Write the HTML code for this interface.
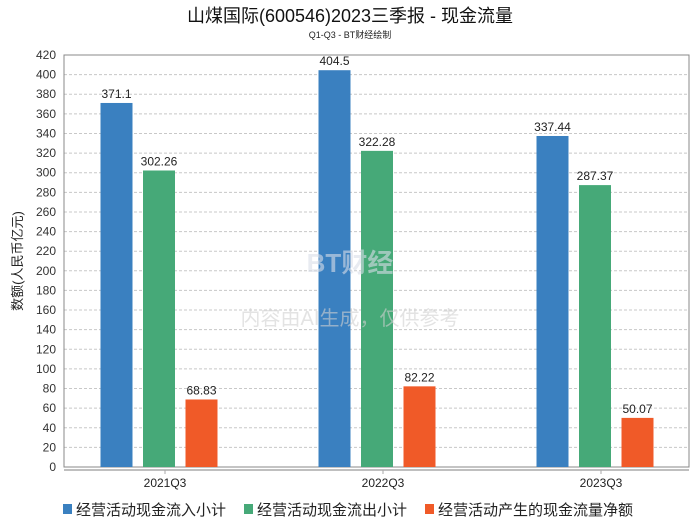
<!DOCTYPE html>
<html><head><meta charset="utf-8"><style>
body{margin:0;background:#fff;width:700px;height:524px;overflow:hidden;font-family:"Liberation Sans","Noto Sans CJK SC",sans-serif}
</style></head><body>
<svg id="c" width="700" height="524" xmlns="http://www.w3.org/2000/svg" font-family="Liberation Sans, Noto Sans CJK SC, sans-serif">
<text x="350" y="22" text-anchor="middle" font-size="18" fill="#111">山煤国际(600546)2023三季报 - 现金流量</text>
<text x="350" y="38" text-anchor="middle" font-size="9" fill="#222">Q1-Q3 - BT财经绘制</text>
<text x="22" y="261" text-anchor="middle" font-size="13" fill="#222" transform="rotate(-90 22 261)">数额(人民币亿元)</text>
<g id="grid"></g>
<g id="bars"></g>
<text x="350" y="272" text-anchor="middle" font-size="26" fill="#d8dee8" fill-opacity="0.6" font-weight="bold">BT财经</text>
<text x="350" y="325" text-anchor="middle" font-size="20" fill="#d0d0d0" fill-opacity="0.6">内容由AI生成，仅供参考</text>
<g id="legend" font-size="15" fill="#222"></g>
</svg>
<script>
const categories=["2021Q3","2022Q3","2023Q3"];
const seriesNames=["经营活动现金流入小计","经营活动现金流出小计","经营活动产生的现金流量净额"];
const inflow=[371.1,404.5,337.44];
const outflow=[302.26,322.28,287.37];
const net=[68.83,82.22,50.07];
const yTicks=[0,20,40,60,80,100,120,140,160,180,200,220,240,260,280,300,320,340,360,380,400,420];
const colors=["#3a80c0","#46a978","#f05a28"];
const NS="http://www.w3.org/2000/svg";
const L=64,R=689,T=55,B=467,maxV=420;
const y=v=>B-(v/maxV)*(B-T);
const band=218,x0=50;
const x=i=>x0+band*(i+0.5);
function mk(tag,attrs,parent,text){const e=document.createElementNS(NS,tag);for(const k in attrs)e.setAttribute(k,attrs[k]);if(text!=null)e.textContent=text;parent.appendChild(e);return e;}
const g=document.getElementById('grid');
yTicks.forEach(t=>{
 const ln=mk('line',{x1:L,x2:R,y1:y(t),y2:y(t),stroke:'#c8c8c8','stroke-dasharray':'3,2','stroke-width':1},g);
 
 
 const tx=mk('text',{x:L-8,y:y(t)+4,'text-anchor':'end','font-size':12,fill:'#333'},g,String(t));
 
 
});
const fr=mk('rect',{x:L,y:T,width:R-L,height:B-T,fill:'none',stroke:'#888'},g);


const ax=mk('line',{x1:L,x2:R,y1:B+3,y2:B+3,stroke:'#aaa','stroke-width':1.5},g);


const b=document.getElementById('bars');
const all=[inflow,outflow,net];
const bw=32,gap=42.5;
categories.forEach((c,i)=>{
 all.forEach((s,j)=>{
  const cx=x(i)+(j-1)*gap;
  const r=mk('rect',{x:cx-bw/2,y:y(s[i]),width:bw,height:B-y(s[i]),fill:colors[j]},b);
  
  
  const t=mk('text',{x:cx,y:y(s[i])-5,'text-anchor':'middle','font-size':12,fill:'#222'},b,String(s[i]));
  
  
 });
 const tk=mk('line',{x1:x(i)+6,x2:x(i)+6,y1:B+3,y2:B+7,stroke:'#aaa'},b);
 
 
 const cl=mk('text',{x:x(i)+6,y:B+20,'text-anchor':'middle','font-size':12,fill:'#222'},b,c);
 
 
});
const lg=document.getElementById('legend');
const lx=[63,244,425];
seriesNames.forEach((n,j)=>{
 const r=mk('rect',{x:lx[j],y:504,width:9,height:10,fill:colors[j]},lg);
 
 
 const t=mk('text',{x:lx[j]+13,y:515},lg,n);
 
 
});
</script>
</body></html>
